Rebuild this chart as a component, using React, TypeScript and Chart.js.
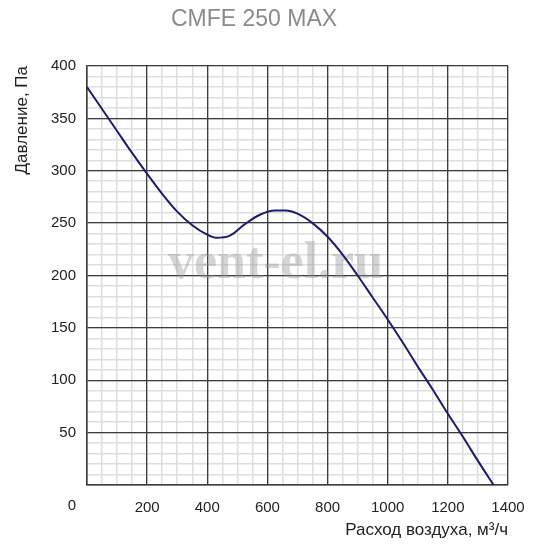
import React, { useEffect, useRef } from "react";
import { Chart, registerables } from "chart.js";

Chart.register(...registerables);

const chartTitle = "CMFE 250 MAX";
const xAxisTitle = "Расход воздуха, м³/ч";
const yAxisTitle = "Давление, Па";
const watermark = "vent-el.ru";

const flowValues = [0, 50, 100, 150, 200, 250, 300, 350, 400, 430, 475, 525, 575, 625, 660, 700, 750, 800, 850, 900, 950, 1000, 1050, 1100, 1150, 1200, 1250, 1300, 1352];
const pressureValues = [380, 359, 338, 317, 297, 278, 261, 248, 239, 236, 238, 249, 258, 262, 262, 259, 250, 237, 220, 200, 179, 158, 136, 113, 91, 68, 46, 23, 0];

const xMin = 0;
const xMax = 1400;
const xMajorStep = 200;
const xMinorStep = 50;
const yMin = 0;
const yMax = 400;
const yMajorStep = 50;
const yMinorStep = 10;
const originLabel = "0";

const FONT = '"Liberation Sans", Arial, Helvetica, sans-serif';

export default function App() {
  const canvasRef = useRef<HTMLCanvasElement | null>(null);

  useEffect(() => {
    const canvas = canvasRef.current;
    if (!canvas) return;

    const extras = {
      id: "extras",
      beforeDatasetsDraw(chart: any) {
        const { ctx, chartArea } = chart;
        ctx.save();
        ctx.font = `bold 52px "Liberation Serif", "DejaVu Serif", serif`;
        ctx.fillStyle = "rgba(150,150,150,0.4)";
        ctx.textAlign = "center";
        ctx.textBaseline = "alphabetic";
        ctx.fillText(watermark, (chartArea.left + chartArea.right) / 2 - 22, 278);
        ctx.restore();
      },
      afterDraw(chart: any) {
        const { ctx } = chart;
        const xs = chart.scales.x;
        const px = xs.getPixelForValue(xMin) - 15;
        ctx.save();
        ctx.font = `15px ${FONT}`;
        ctx.fillStyle = "#222";
        ctx.textAlign = "center";
        ctx.textBaseline = "middle";
        ctx.fillText(originLabel, px, 506);
        ctx.restore();
      },
    };

    const chart = new Chart(canvas, {
      type: "line",
      data: {
        datasets: [
          {
            data: flowValues.map((x, i) => ({ x, y: pressureValues[i] })),
            borderColor: "#1c1c6c",
            borderWidth: 2,
            pointRadius: 0,
            fill: false,
            cubicInterpolationMode: "monotone",
            xAxisID: "x",
            yAxisID: "y",
          },
        ],
      },
      options: {
        animation: false,
        responsive: false,
        devicePixelRatio: 1,
        layout: { padding: { left: 0, right: 42, top: 0, bottom: 0 } },
        plugins: {
          legend: { display: false },
          tooltip: { enabled: false },
          title: {
            display: true,
            text: chartTitle,
            color: "#8a8a8a",
            font: { family: FONT, size: 23, weight: "normal" },
            padding: { top: 6, bottom: 32.4 },
          },
        },
        scales: {
          xMinor: {
            type: "linear",
            position: "bottom",
            min: xMin,
            max: xMax,
            ticks: { display: false, stepSize: xMinorStep },
            grid: { color: "#dedede", lineWidth: 1.5, drawTicks: false, z: -1 },
            border: { display: false },
            afterFit: (s: any) => { s.height = 0; },
          },
          yMinor: {
            type: "linear",
            position: "left",
            min: yMin,
            max: yMax,
            ticks: { display: false, stepSize: yMinorStep },
            grid: { color: "#dedede", lineWidth: 1.5, drawTicks: false, z: -1 },
            border: { display: false },
            afterFit: (s: any) => { s.width = 0; },
          },
          x: {
            type: "linear",
            position: "bottom",
            min: xMin,
            max: xMax,
            ticks: {
              stepSize: xMajorStep,
              autoSkip: false,
              maxRotation: 0,
              padding: 14,
              color: "#222",
              font: { family: FONT, size: 15 },
              callback: (v: any) => (Number(v) === xMin ? "" : String(v)),
            },
            grid: { color: "#3c3c3c", lineWidth: 1.3, drawTicks: false, z: -0.5 },
            border: { display: true, color: "#3c3c3c", width: 1.5 },
            title: {
              display: true,
              text: xAxisTitle,
              align: "end",
              color: "#222",
              font: { family: FONT, size: 17 },
              padding: { top: 0, bottom: 9 },
            },
            afterFit: (s: any) => { s.height = 65; },
          },
          y: {
            type: "linear",
            position: "left",
            min: yMin,
            max: yMax,
            ticks: {
              stepSize: yMajorStep,
              padding: 11,
              color: "#222",
              font: { family: FONT, size: 15 },
              callback: (v: any) => (Number(v) === yMin ? "" : String(v)),
            },
            grid: { color: "#3c3c3c", lineWidth: 1.3, drawTicks: false, z: -0.5 },
            border: { display: true, color: "#3c3c3c", width: 1.5 },
            title: {
              display: true,
              text: yAxisTitle,
              align: "end",
              color: "#222",
              font: { family: FONT, size: 17 },
              padding: { top: 12, bottom: 0 },
            },
            afterFit: (s: any) => { s.width = 87; },
          },
        },
      },
      plugins: [extras],
    } as any);

    return () => chart.destroy();
  }, []);

  return (
    <div style={{ position: "absolute", left: 0, top: 0, width: 550, height: 550, background: "#fff" }}>
      <canvas ref={canvasRef} width={550} height={550} />
    </div>
  );
}
